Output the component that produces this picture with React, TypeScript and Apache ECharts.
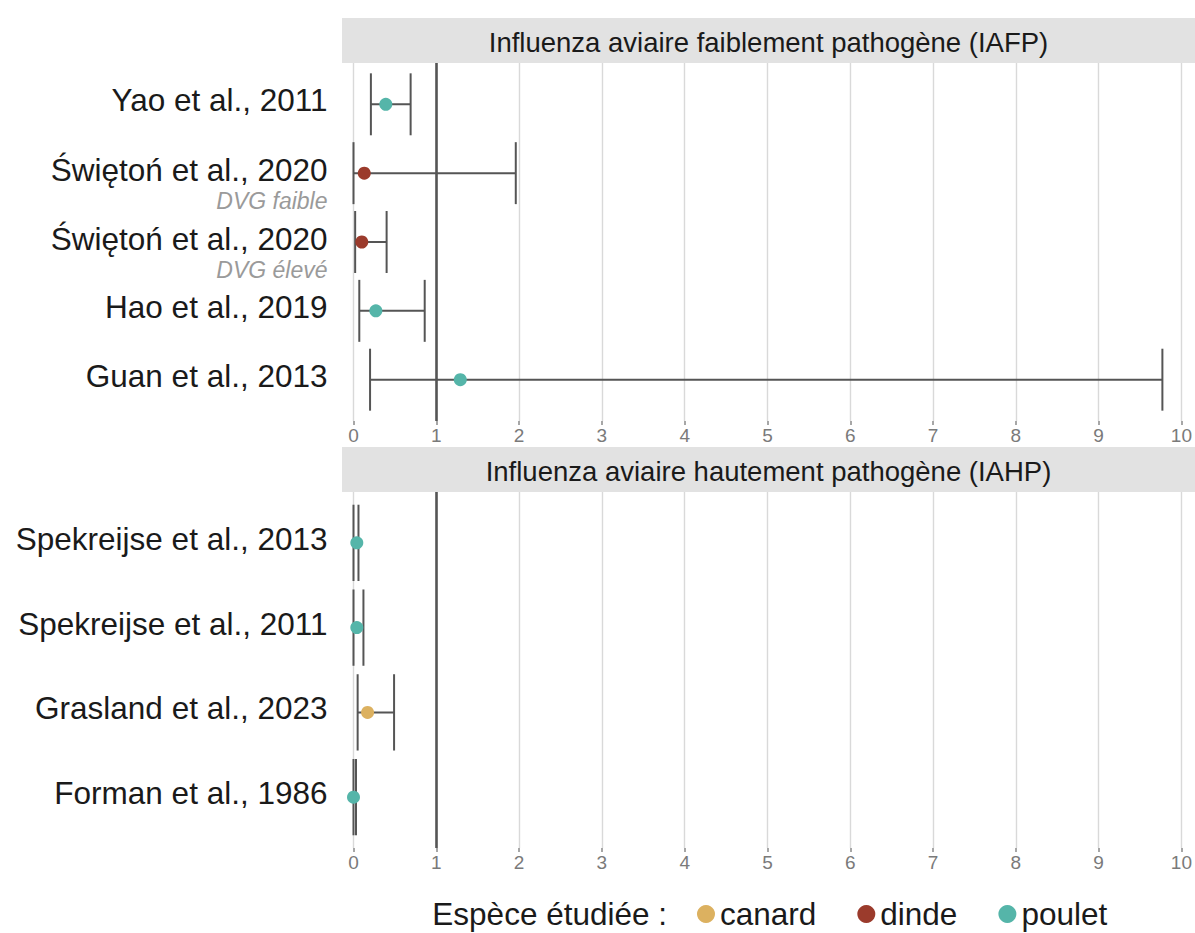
import React, { useEffect, useRef } from "react";
import * as echarts from "echarts";

// ---- data ----
const SPECIES = ["canard", "dinde", "poulet"];
const SPECIES_COLORS = ["#dcb160", "#9b3b2c", "#55b5a9"];

const PANEL_TITLES = [
  "Influenza aviaire faiblement pathogène (IAFP)",
  "Influenza aviaire hautement pathogène (IAHP)",
];

const TOP_STUDIES = [
  "Yao et al., 2011",
  "Świętoń et al., 2020",
  "Świętoń et al., 2020",
  "Hao et al., 2019",
  "Guan et al., 2013",
];
const TOP_NOTES = ["", "DVG faible", "DVG élevé", "", ""];
const TOP_SPECIES = ["poulet", "dinde", "dinde", "poulet", "poulet"];
const TOP_EST = [0.39, 0.13, 0.1, 0.27, 1.29];
const TOP_LOW = [0.21, 0.0, 0.02, 0.07, 0.2];
const TOP_HIGH = [0.69, 1.96, 0.4, 0.86, 9.77];

const BOT_STUDIES = [
  "Spekreijse et al., 2013",
  "Spekreijse et al., 2011",
  "Grasland et al., 2023",
  "Forman et al., 1986",
];
const BOT_NOTES = ["", "", "", ""];
const BOT_SPECIES = ["poulet", "poulet", "canard", "poulet"];
const BOT_EST = [0.04, 0.04, 0.17, 0.0];
const BOT_LOW = [0.0, 0.0, 0.05, 0.0];
const BOT_HIGH = [0.06, 0.12, 0.49, 0.03];

const REF_VALUE = 1;
const X_MIN = 0;
const X_MAX = 10;
const LEGEND_TITLE = "Espèce étudiée :";

const FONT = "Liberation Sans, Arial, Helvetica, sans-serif";

export default function App() {
  const ref = useRef<HTMLDivElement>(null);

  useEffect(() => {
    if (!ref.current) return;
    const chart = echarts.init(ref.current, null, { renderer: "svg" });

    const panels = [
      { studies: TOP_STUDIES, notes: TOP_NOTES, species: TOP_SPECIES, est: TOP_EST, low: TOP_LOW, high: TOP_HIGH, top: 63, height: 358 },
      { studies: BOT_STUDIES, notes: BOT_NOTES, species: BOT_SPECIES, est: BOT_EST, low: BOT_LOW, high: BOT_HIGH, top: 492, height: 356 },
    ];

    const gridLeft = 353.5;
    const gridWidth = 830;

    const grids = panels.map((p) => ({ left: gridLeft, width: gridWidth, top: p.top, height: p.height }));

    const xAxes = panels.map((p, gi) => ({
      type: "value",
      gridIndex: gi,
      min: X_MIN,
      max: X_MAX,
      interval: 1,
      axisLine: { show: false },
      axisTick: { show: true, length: 4, lineStyle: { color: "#8a8a8a", width: 1.5 } },
      axisLabel: { color: "#7a7a7a", fontSize: 19, fontFamily: FONT, margin: 5 },
      splitLine: { show: true, lineStyle: { color: "#d9d9d9", width: 1.4 } },
    }));

    const yAxes = panels.map((p, gi) => {
      const n = p.studies.length;
      return {
        type: "value",
        gridIndex: gi,
        min: 0.4,
        max: n + 0.6,
        inverse: true,
        splitLine: { show: false },
        axisLine: { show: false },
        axisTick: { show: false },
        axisLabel: {
          customValues: p.studies.map((_, i) => i + 1),
          margin: 26,
          formatter: (v: number) => {
            const i = Math.round(v) - 1;
            const name = p.studies[i];
            const note = p.notes[i];
            if (!name) return "";
            if (note) return `{sp| }\n{mt|${name}}\n{n|${note}}`;
            return `{m|${name}}`;
          },
          rich: {
            sp: { fontSize: 10, lineHeight: 22 },
            m: { fontSize: 31.5, fontFamily: FONT, color: "#1a1a1a", lineHeight: 36, padding: [0, 0, 8, 0] },
            mt: { fontSize: 31.5, fontFamily: FONT, color: "#1a1a1a", lineHeight: 34 },
            n: { fontSize: 23, fontFamily: FONT, color: "#9a9a9a", fontStyle: "italic", lineHeight: 28 },
          },
        },
      };
    });

    const series: any[] = [];
    panels.forEach((p, gi) => {
      series.push({
        type: "custom",
        name: "ic" + gi,
        xAxisIndex: gi,
        yAxisIndex: gi,
        data: p.low.map((l, i) => [l, p.high[i], i + 1]),
        encode: { x: [0, 1], y: 2 },
        z: 3,
        renderItem: (params: any, api: any) => {
          const lo = api.coord([api.value(0), api.value(2)]);
          const hi = api.coord([api.value(1), api.value(2)]);
          const half = api.size([0, 0.45])[1];
          const style = { stroke: "#555", lineWidth: 2 };
          return {
            type: "group",
            children: [
              { type: "line", shape: { x1: lo[0], y1: lo[1], x2: hi[0], y2: hi[1] }, style },
              { type: "line", shape: { x1: lo[0], y1: lo[1] - half, x2: lo[0], y2: lo[1] + half }, style },
              { type: "line", shape: { x1: hi[0], y1: hi[1] - half, x2: hi[0], y2: hi[1] + half }, style },
            ],
          };
        },
        markLine: {
          silent: true,
          symbol: "none",
          label: { show: false },
          lineStyle: { color: "#555", width: 2.6, type: "solid" },
          data: [{ xAxis: REF_VALUE }],
        },
      });
      SPECIES.forEach((sp, si) => {
        const data = p.est
          .map((e, i) => (p.species[i] === sp ? [e, i + 1] : null))
          .filter((d) => d !== null);
        series.push({
          type: "scatter",
          name: sp,
          xAxisIndex: gi,
          yAxisIndex: gi,
          symbol: "circle",
          symbolSize: 13,
          itemStyle: { color: SPECIES_COLORS[si], opacity: 1 },
          z: 5,
          data,
        });
      });
    });

    const stripLeft = 342;
    const stripWidth = 853;
    const graphics: any[] = [];
    panels.forEach((p, gi) => {
      const y0 = p.top - 45;
      graphics.push({
        type: "rect",
        shape: { x: stripLeft, y: y0, width: stripWidth, height: 45 },
        style: { fill: "#e2e2e2" },
        silent: true,
        z: 0,
      });
      graphics.push({
        type: "text",
        x: stripLeft + stripWidth / 2,
        y: y0 + 24,
        style: {
          text: PANEL_TITLES[gi],
          fontSize: 27.5,
          fontFamily: FONT,
          fill: "#1a1a1a",
          align: "center",
          verticalAlign: "middle",
        },
        silent: true,
        z: 1,
      });
    });
    graphics.push({
      type: "text",
      x: 667,
      y: 914,
      style: {
        text: LEGEND_TITLE,
        fontSize: 31.5,
        fontFamily: FONT,
        fill: "#1a1a1a",
        align: "right",
        verticalAlign: "middle",
      },
    });

    chart.setOption({
      animation: false,
      backgroundColor: "#ffffff",
      grid: grids,
      xAxis: xAxes,
      yAxis: yAxes,
      legend: {
        data: SPECIES,
        left: 697,
        top: 897,
        orient: "horizontal",
        icon: "circle",
        itemWidth: 18,
        itemHeight: 18,
        itemGap: 41,
        padding: 0,
        textStyle: { fontSize: 31.5, fontFamily: FONT, color: "#1a1a1a", lineHeight: 34 },
        selectedMode: false,
      },
      graphic: graphics,
      series,
    });

    return () => chart.dispose();
  }, []);

  return (
    <div
      ref={ref}
      style={{ position: "fixed", left: 0, top: 0, width: 1195, height: 933, background: "#fff" }}
    />
  );
}
